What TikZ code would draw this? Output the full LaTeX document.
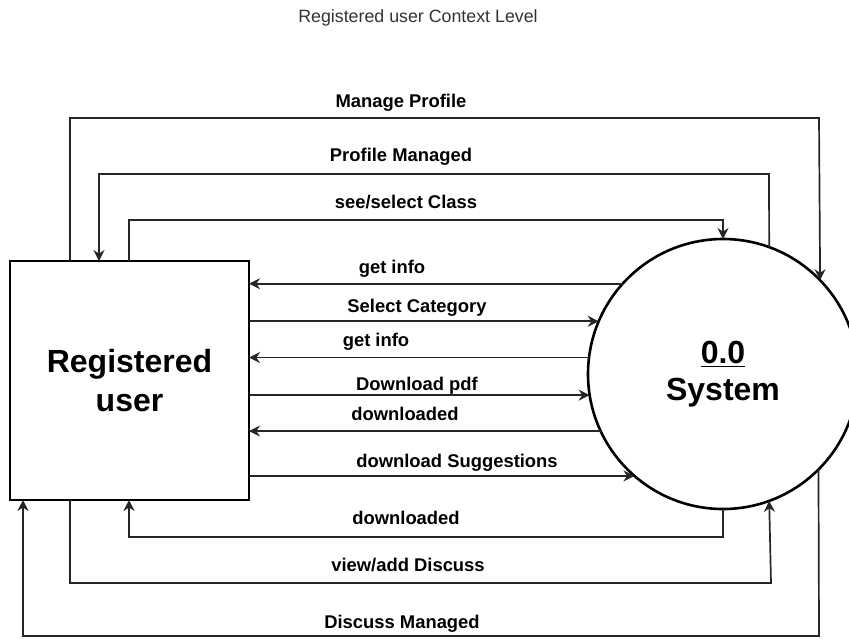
\documentclass[tikz,border=0pt]{standalone}
\usepackage{fontspec}
\setmainfont{Liberation Sans}
\usetikzlibrary{arrows.meta}

\begin{document}
\begin{tikzpicture}[x=.5pt,y=-.5pt,line width=.85pt,
 >={Stealth[length=5.5pt,width=5.5pt,inset=1.8pt]},
 font=\fontsize{9.2}{11}\selectfont\bfseries,
 entity/.style={draw=black,line width=1.4pt,minimum width=119.5pt,
  minimum height=119.5pt,inner sep=0pt,outer sep=0pt,align=center,
  font=\fontsize{16}{19.5}\selectfont\bfseries},
 process/.style={draw=black,circle,line width=1.3pt,minimum size=135pt,
  inner sep=0pt,outer sep=0pt,align=center,
  font=\fontsize{16}{18.5}\selectfont\bfseries},
 flow/.style={draw=black!85,->},
 lbl/.style={inner sep=0pt,anchor=base,text=black},
 heading/.style={inner sep=0pt,anchor=base,text=black!80,
  font=\fontsize{8.9}{11}\selectfont}]
\useasboundingbox (0,0) rectangle (849,639);
% title
\node[heading] (ttl) at (418,22) {Registered user Context Level};
% the two parties
\node[entity] (user) at (129.5,380.5) {Registered\\user};
\node[process] (sys) at (723,374) {\underline{0.0}\\System};
% lanes above the box
\coordinate (mpL) at (70,118);  \coordinate (mpR) at (819,118);
\coordinate (pmL) at (99,174);  \coordinate (pmR) at (769,174);
\coordinate (scL) at (129,220); \coordinate (scR) at (723,220);
% lanes below the box
\coordinate (dlL) at (129,537); \coordinate (dlR) at (723,537);
\coordinate (vdL) at (70,583);  \coordinate (vdR) at (771,583);
\coordinate (dmL) at (23,636);  \coordinate (dmR) at (819,636);
% top loops
\draw[flow] (mpL |- user.north) -- (mpL) -- (mpR) -- (sys.44.7);
\node[lbl] (l1) at (401,107) {Manage Profile};
\draw[flow] (sys.70.1) -- (pmR) -- (pmL) -- (pmL |- user.north);
\node[lbl] (l2) at (401,161) {Profile Managed};
\draw[flow] (scL |- user.north) -- (scL) -- (scR) -- (sys.north);
\node[lbl] (l3) at (406,208) {see/select Class};
% straight flows
\draw[flow] (sys.138.75) -- (sys.138.75 -| user.east);
\node[lbl] (l4) at (392,273) {get info};
\draw[flow] (user.east |- sys.157.35) -- (sys.157.35);
\node[lbl] (l5) at (417,312) {Select Category};
\draw[flow] (sys.173.2) -- (sys.173.2 -| user.east);
\node[lbl] (l6) at (376,346) {get info};
\draw[flow] (user.east |- sys.189.8) -- (sys.189.8);
\node[lbl] (l7) at (417,390) {Download pdf};
\draw[flow] (sys.205.9) -- (sys.205.9 -| user.east);
\node[lbl] (l8) at (405,420) {downloaded};
\draw[flow] (user.east |- sys.229.1) -- (sys.229.1);
\node[lbl] (l9) at (457,467) {download Suggestions};
% bottom loops
\draw[flow] (sys.south) -- (dlR) -- (dlL) -- (dlL |- user.south);
\node[lbl] (l10) at (406,524) {downloaded};
\draw[flow] (vdL |- user.south) -- (vdL) -- (vdR) -- (sys.290.8);
\node[lbl] (l11) at (408,571) {view/add Discuss};
\draw[flow] (sys.315.3) -- (dmR) -- (dmL) -- (dmL |- user.south);
\node[lbl] (l12) at (402,628) {Discuss Managed};
\end{tikzpicture}
\end{document}
